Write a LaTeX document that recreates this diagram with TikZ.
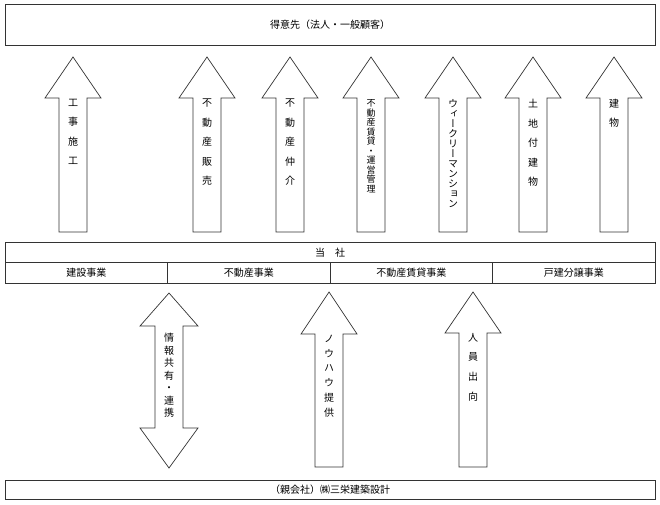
\documentclass[tikz,border=0pt]{standalone}
\usepackage{fontspec}
\newfontfamily\jp{Noto Sans CJK JP}
\newfontfamily\vjp[RawFeature=+vert]{Noto Sans CJK JP}

\newcommand{\uparr}[4]{% x, tip, head base, bottom
\draw[blockarrow] (#1,#2) -- (#1+28,#3) -- (#1+14,#3) -- (#1+14,#4) -- (#1-14,#4) -- (#1-14,#3) -- (#1-28,#3) -- cycle;}
\newcommand{\duarr}[5]{% x, top tip, upper base, lower base, bottom tip
\draw[blockarrow] (#1,#2) -- (#1+29,#3) -- (#1+14,#3) -- (#1+14,#4) -- (#1+29,#4) -- (#1,#5) -- (#1-29,#4) -- (#1-14,#4) -- (#1-14,#3) -- (#1-29,#3) -- cycle;}

\begin{document}
\begin{tikzpicture}[x=1pt,y=-1pt,
  frame/.style={draw=black!80, line width=0.8pt, inner sep=0pt, font=\jp\fontsize{10}{12}\selectfont},
  blockarrow/.style={draw=black!80, line width=0.7pt, fill=white},
  vlabel/.style={anchor=north, align=center, inner sep=0pt, font=\vjp\fontsize{10}{#1}\selectfont},
  vsmall/.style={anchor=north, align=center, inner sep=0pt, font=\vjp\fontsize{9}{#1}\selectfont}]
\useasboundingbox (0,0) rectangle (660,505);

\node[frame, minimum width=650pt, minimum height=41pt] (kokyaku) at (330,25.2) {得意先（法人・一般顧客）};
\node[frame, minimum width=650pt, minimum height=20.4pt] (tosha) at (330,252.5) {当　社};
\node[frame, minimum width=162.5pt, minimum height=20.6pt] (kensetsu) at (86.25,273) {建設事業};
\node[frame, minimum width=162.5pt, minimum height=20.6pt] (fudosan) at (248.75,273) {不動産事業};
\node[frame, minimum width=162.5pt, minimum height=20.6pt] (chintai) at (411.25,273) {不動産賃貸事業};
\node[frame, minimum width=162.5pt, minimum height=20.6pt] (bunjo) at (573.75,273) {戸建分譲事業};
\node[frame, minimum width=650pt, minimum height=19.5pt] (oya) at (330,489.75) {（親会社）㈱三栄建築設計};

\uparr{73}{57}{98}{232}
\uparr{207}{57}{98}{232}
\uparr{290}{57}{98}{232}
\uparr{371}{57}{98}{232}
\uparr{453}{57}{98}{232}
\uparr{533}{57}{98}{232}
\uparr{614}{57}{98}{232}
\duarr{169}{293}{326}{428}{468}
\uparr{329}{292}{334}{467}
\uparr{473}{292}{333}{467}

\node[vlabel=19.5] (koji) at (73,99) {工\\事\\施\\工};
\node[vlabel=19.5] (hanbai) at (207,99) {不\\動\\産\\販\\売};
\node[vlabel=19.5] (chukai) at (290,99) {不\\動\\産\\仲\\介};
\node[vsmall=9.5] (kanri) at (371,99.5) {不\\動\\産\\賃\\貸\\・\\運\\営\\管\\理};
\node[vlabel=10] (weekly) at (453,99) {ウ\\ィ\\ー\\ク\\リ\\ー\\マ\\ン\\シ\\ョ\\ン};
\node[vlabel=19.5] (tochi) at (533,99) {土\\地\\付\\建\\物};
\node[vlabel=18.7] (tatemono) at (614,99) {建\\物};
\node[vlabel=12.5] (joho) at (169,333) {情\\報\\共\\有\\・\\連\\携};
\node[vlabel=14.7] (knowhow) at (329,335) {ノ\\ウ\\ハ\\ウ\\提\\供};
\node[vlabel=19.7] (shukko) at (473,333) {人\\員\\出\\向};
\end{tikzpicture}
\end{document}
